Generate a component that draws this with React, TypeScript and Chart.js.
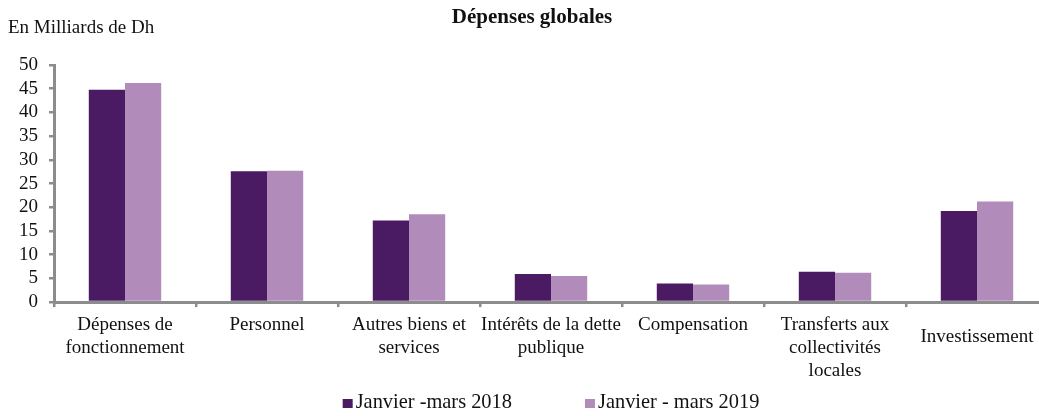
import React, { useEffect, useRef } from "react";
import { Chart, registerables } from "chart.js";

Chart.register(...registerables);

const categories: (string | string[])[] = [
  ["Dépenses de", "fonctionnement"],
  "Personnel",
  ["Autres biens et", "services"],
  ["Intérêts de la dette", "publique"],
  "Compensation",
  ["Transferts aux", "collectivités", "locales"],
  ["", "Investissement"],
];
const series2018 = [44.8, 27.6, 17.2, 5.9, 3.9, 6.4, 19.2];
const series2019 = [46.2, 27.7, 18.5, 5.5, 3.7, 6.2, 21.2];
const seriesLabels = ["Janvier -mars 2018", "Janvier - mars 2019"];
const seriesColors = ["#4a1a63", "#b18bba"];
const titleText = "Dépenses globales";
const unitText = "En Milliards de Dh";

const FONT = "'Liberation Serif', 'Times New Roman', serif";

export default function App() {
  const ref = useRef<HTMLCanvasElement | null>(null);
  useEffect(() => {
    if (!ref.current) return;
    const textPlugin = {
      id: "texts",
      afterDraw(chart: any) {
        const ctx = chart.ctx;
        ctx.save();
        ctx.fillStyle = "#111";
        ctx.textBaseline = "middle";
        ctx.font = `bold 21px ${FONT}`;
        ctx.textAlign = "center";
        ctx.fillText(titleText, 532, 18);
        ctx.font = `19px ${FONT}`;
        ctx.textAlign = "left";
        ctx.fillText(unitText, 8, 28);

        // legend
        ctx.font = `20.4px ${FONT}`;
        ctx.textBaseline = "alphabetic";
        const boxW = 10;
        const boxGap = 3;
        const itemGap = 73;
        const widths = seriesLabels.map((l) => ctx.measureText(l).width);
        const total = widths.reduce((a, w) => a + boxW + boxGap + w, 0) + itemGap * (seriesLabels.length - 1);
        const cx = (chart.chartArea.left + chart.chartArea.right) / 2;
        let x = cx - total / 2;
        const baseY = 408;
        seriesLabels.forEach((l, i) => {
          ctx.fillStyle = seriesColors[i];
          ctx.fillRect(x, baseY - 9, boxW, 9);
          ctx.fillStyle = "#111";
          ctx.fillText(l, x + boxW + boxGap, baseY);
          x += boxW + boxGap + widths[i] + itemGap;
        });
        ctx.restore();
      },
    };
    const chart = new Chart(ref.current, {
      type: "bar",
      data: {
        labels: categories,
        datasets: [
          { label: seriesLabels[0], data: series2018, backgroundColor: seriesColors[0] },
          { label: seriesLabels[1], data: series2019, backgroundColor: seriesColors[1] },
        ],
      },
      options: {
        animation: false,
        responsive: false,
        maintainAspectRatio: false,
        layout: { padding: { left: 8, right: 0, top: 65, bottom: 26.5 } },
        datasets: { bar: { categoryPercentage: 0.51, barPercentage: 1 } },
        plugins: {
          title: { display: false },
          tooltip: { enabled: false },
          legend: { display: false },
        },
        scales: {
          x: {
            grid: {
              offset: true,
              drawOnChartArea: false,
              tickLength: 5,
              color: "#8c8c8c",
              lineWidth: 2.5,
            },
            border: { color: "#8c8c8c", width: 3 },
            ticks: {
              color: "#111",
              font: (c: any) =>
                c.index === categories.length - 1
                  ? { family: FONT, size: 19, lineHeight: 0.8 }
                  : { family: FONT, size: 19, lineHeight: 1.2 },
              maxRotation: 0,
              autoSkip: false,
              padding: 7,
            },
          },
          y: {
            min: 0,
            max: 50,
            grid: {
              drawOnChartArea: false,
              tickLength: 5,
              color: "#8c8c8c",
              lineWidth: 2.5,
            },
            border: { color: "#8c8c8c", width: 3 },
            ticks: {
              stepSize: 5,
              autoSkip: false,
              color: "#111",
              font: { family: FONT, size: 19 },
              padding: 11,
            },
          },
        },
      },
      plugins: [textPlugin],
    });
    return () => chart.destroy();
  }, []);
  return (
    <div style={{ position: "absolute", left: 0, top: 0, width: 1039, height: 416, overflow: "hidden", background: "#fff" }}>
      <canvas ref={ref} width={1048} height={416} style={{ display: "block" }} />
    </div>
  );
}
